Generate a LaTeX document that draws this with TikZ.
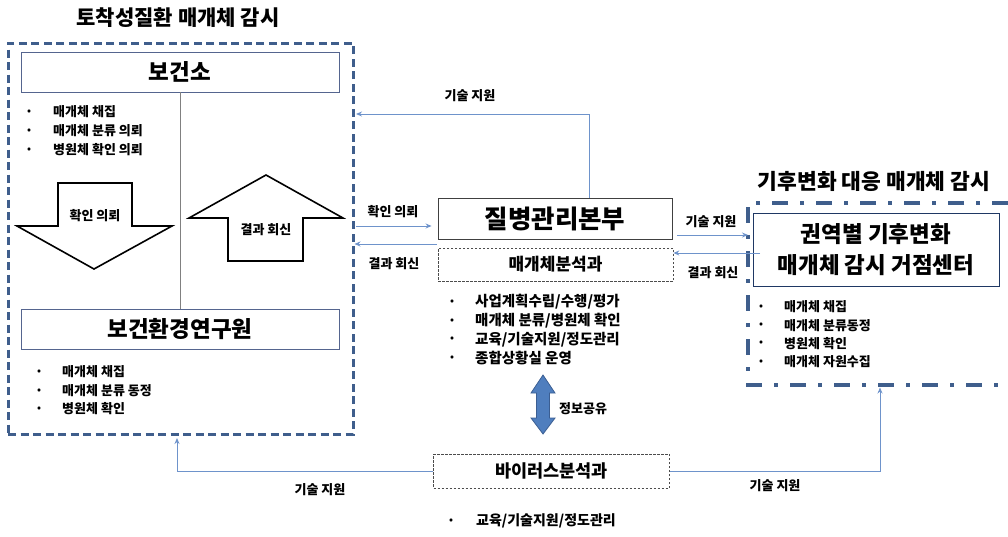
\documentclass[tikz,border=0pt]{standalone}
\usepackage{fontspec}
\setmainfont{Noto Sans CJK KR}
\usetikzlibrary{arrows.meta,calc}
\definecolor{frameblue}{HTML}{3F5E8C}
\definecolor{boxline}{HTML}{55658F}
\definecolor{connblue}{HTML}{6E93CB}
\definecolor{arrowfill}{HTML}{4F7EBE}
\definecolor{arrowline}{HTML}{3B5E92}
\definecolor{navy}{HTML}{1F3864}
\newcommand{\fs}[1]{\fontsize{#1}{#1}\selectfont\bfseries}
\tikzset{
  txt/.style={inner sep=0pt, font=\fs{13}},
  bul/.style={inner sep=0pt, font=\fs{13}, anchor=west},
  mainbox/.style={draw=boxline, line width=0.9pt, inner sep=0pt, fill=white},
  subbox/.style={draw=black!70, line width=0.7pt, dash pattern=on 2.5pt off 1.5pt, inner sep=0pt},
  conn/.style={draw=connblue, line width=0.9pt, -{Stealth[length=6pt,width=5pt]}},
  blockarrow/.style={draw=black, line width=1.6pt, fill=white, line join=miter},
}
\begin{document}
\begin{tikzpicture}[x=1pt,y=-1pt]
\useasboundingbox (0,0) rectangle (1008,536);

% ---------- left group ----------
\node[txt, font=\fs{21}] (ltitle) at (178,18) {토착성질환 매개체 감시};
\node[draw=frameblue, line width=3pt, dash pattern=on 8pt off 4.5pt, minimum width=345pt, minimum height=391pt, inner sep=0pt] (lbox) at (180.5,238.5) {};
\node[mainbox, minimum width=318pt, minimum height=40pt, font=\fs{22.5}] (bgs) at (180,72) {보건소};
\node[mainbox, minimum width=318pt, minimum height=40pt, font=\fs{22.5}] (ihe) at (180,329) {보건환경연구원};
\draw[gray, line width=0.8pt] (bgs.south) -- (ihe.north);

\node[bul] (b1a) at (27,112) {\fs{10}•};
\node[bul] (b1t) at (53,112) {매개체 채집};
\node[bul] (b2a) at (27,131) {\fs{10}•};
\node[bul] (b2t) at (53,131) {매개체 분류 의뢰};
\node[bul] (b3a) at (27,150) {\fs{10}•};
\node[bul] (b3t) at (53,150) {병원체 확인 의뢰};

% down block arrow
\draw[blockarrow] (58,183) -- (132,183) -- (132,226) -- (172,226) -- (94,269) -- (17,226) -- (58,226) -- cycle;
\node[txt] (dtxt) at (95,216) {확인 의뢰};
% up block arrow
\draw[blockarrow] (228,261) -- (303,261) -- (303,218) -- (343,218) -- (266,175) -- (189,218) -- (228,218) -- cycle;
\node[txt] (utxt) at (266,230) {결과 회신};

\node[bul] (c1a) at (37,372) {\fs{10}•};
\node[bul] (c1t) at (62,372) {매개체 채집};
\node[bul] (c2a) at (37,391) {\fs{10}•};
\node[bul] (c2t) at (62,391) {매개체 분류 동정};
\node[bul] (c3a) at (37,409) {\fs{10}•};
\node[bul] (c3t) at (62,409) {병원체 확인};

% ---------- centre ----------
\node[mainbox, draw=black!75, minimum width=234pt, minimum height=41pt, font=\fs{25.5}] (kcdc) at (555,218.5) {질병관리본부};
\node[subbox, minimum width=235pt, minimum height=33pt, font=\fs{17}] (mab) at (555.5,264.5) {매개체분석과};

\node[bul, font=\fs{14.5}] (m1a) at (450,302) {\fs{10}•};
\node[bul, font=\fs{14.5}] (m1t) at (475,302) {사업계획수립/수행/평가};
\node[bul, font=\fs{14.5}] (m2a) at (450,321) {\fs{10}•};
\node[bul, font=\fs{14.5}] (m2t) at (475,321) {매개체 분류/병원체 확인};
\node[bul, font=\fs{14.5}] (m3a) at (450,339.5) {\fs{10}•};
\node[bul, font=\fs{14.5}] (m3t) at (475,339.5) {교육/기술지원/정도관리};
\node[bul, font=\fs{14.5}] (m4a) at (450,358) {\fs{10}•};
\node[bul, font=\fs{14.5}] (m4t) at (475,358) {종합상황실 운영};

% double arrow
\draw[fill=arrowfill, draw=arrowline, line width=0.8pt] (543,375) -- (555,393) -- (549.5,393) -- (549.5,418) -- (555,418) -- (543,434) -- (531,418) -- (536.5,418) -- (536.5,393) -- (531,393) -- cycle;
\node[txt, anchor=west] (info) at (559,409) {정보공유};

\node[subbox, minimum width=236pt, minimum height=34pt, font=\fs{17.5}] (vab) at (551.5,471) {바이러스분석과};
\node[bul, font=\fs{14}] (v1a) at (449,521) {\fs{10}•};
\node[bul, font=\fs{14}] (v1t) at (476,521) {교육/기술지원/정도관리};

% ---------- right group ----------
\node[txt, font=\fs{21.5}] (rtitle) at (874,181) {기후변화 대응 매개체 감시};
\draw[frameblue, line width=3.6pt, dash pattern=on 16pt off 12pt on 4pt off 12pt] (1008,203) -- (748,203) -- (748,385) -- (1008,385);
\coordinate (rleft) at (748,235);
\coordinate (rbot) at (880,385);
\node[draw=navy, line width=1pt, fill=white, minimum width=246pt, minimum height=73pt, inner sep=0pt, align=center, font=\fs{22.5}] (rc) at (876,249.5) {권역별 기후변화\\[8pt]매개체 감시 거점센터};

\node[bul] (r1a) at (759,307) {\fs{10}•};
\node[bul] (r1t) at (784,307) {매개체 채집};
\node[bul] (r2a) at (759,325.5) {\fs{10}•};
\node[bul] (r2t) at (784,325.5) {매개체 분류동정};
\node[bul] (r3a) at (759,343.5) {\fs{10}•};
\node[bul] (r3t) at (784,343.5) {병원체 확인};
\node[bul] (r4a) at (759,362) {\fs{10}•};
\node[bul] (r4t) at (784,362) {매개체 자원수집};

% ---------- connectors ----------
\coordinate (ltop) at (356,114);
\draw[conn] ([xshift=34pt]kcdc.north) |- (ltop);
\node[txt] (l1) at (470,96) {기술 지원};

\coordinate (qa) at (356,226);
\draw[conn, shorten >=6pt] (qa) -- (qa -| kcdc.west);
\node[txt] (l2) at (393,212) {확인 의뢰};

\coordinate (ra) at (437,244);
\draw[conn] (ra) -- (ra -| lbox.east);
\node[txt] (l3) at (394,264) {결과 회신};

\coordinate (ta) at (677,235);
\draw[conn] (ta) -- (rleft);
\node[txt] (l4) at (711,222) {기술 지원};

\coordinate (sa) at (760,253);
\draw[conn] (sa) -- (sa -| mab.east);
\node[txt] (l5) at (713,273) {결과 회신};

\draw[conn, shorten >=2.5pt] (vab.west) -| ([xshift=-3.5pt]lbox.south);
\node[txt] (l6) at (320,490) {기술 지원};
\draw[conn, shorten >=2.5pt] (vab.east) -| (rbot);
\node[txt] (l7) at (775,486) {기술 지원};
\end{tikzpicture}
\end{document}
